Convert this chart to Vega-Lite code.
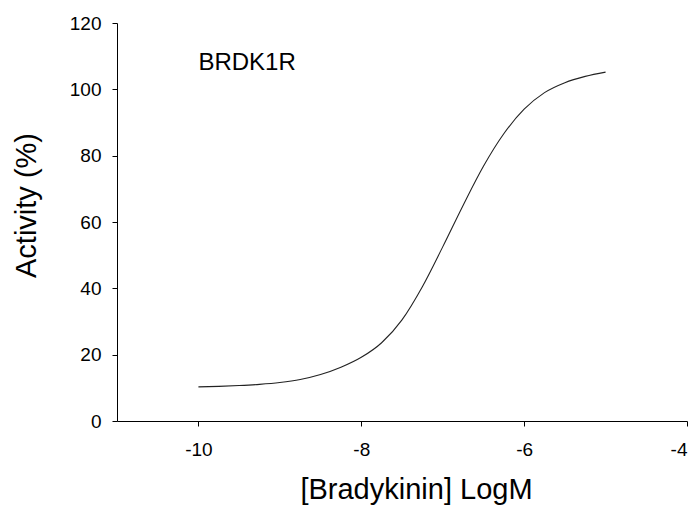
{
  "$schema": "https://vega.github.io/schema/vega-lite/v6.json",
  "width": 570,
  "height": 398,
  "autosize": {"type": "none"},
  "padding": {"left": 117, "top": 23, "right": 9, "bottom": 88},
  "background": "white",
  "config": {
    "view": {"stroke": null},
    "font": "Liberation Sans",
    "axis": {
      "grid": false,
      "domainColor": "black",
      "tickColor": "black",
      "labelColor": "black",
      "titleColor": "black",
      "labelFont": "Liberation Sans",
      "titleFont": "Liberation Sans",
      "labelFontSize": 19,
      "titleFontSize": 29,
      "titleFontWeight": "normal",
      "tickSize": 5
    }
  },
  "datasets": {
    "curve": [
      {"logM": -10.0, "activity": 10.3},
      {"logM": -9.75, "activity": 10.45},
      {"logM": -9.5, "activity": 10.7},
      {"logM": -9.25, "activity": 11.05},
      {"logM": -9.0, "activity": 11.6},
      {"logM": -8.75, "activity": 12.5},
      {"logM": -8.5, "activity": 14.0},
      {"logM": -8.25, "activity": 16.2},
      {"logM": -8.0, "activity": 19.2},
      {"logM": -7.75, "activity": 23.6},
      {"logM": -7.5, "activity": 30.5},
      {"logM": -7.25, "activity": 40.5},
      {"logM": -7.0, "activity": 52.5},
      {"logM": -6.75, "activity": 65.0},
      {"logM": -6.5, "activity": 76.8},
      {"logM": -6.25, "activity": 86.6},
      {"logM": -6.0, "activity": 94.0},
      {"logM": -5.75, "activity": 99.0},
      {"logM": -5.5, "activity": 102.0},
      {"logM": -5.25, "activity": 103.9},
      {"logM": -5.0, "activity": 105.2}
    ],
    "labels": [
      {"logM": -10.0, "activity": 105.7, "text": "BRDK1R"}
    ]
  },
  "layer": [
    {
      "data": {"name": "curve"},
      "mark": {"type": "line", "interpolate": "monotone", "color": "#222222", "strokeWidth": 1.1},
      "encoding": {
        "x": {
          "field": "logM", "type": "quantitative",
          "scale": {"domain": [-11, -4], "nice": false},
          "axis": {
            "values": [-10, -8, -6, -4],
            "labelExpr": "'' + datum.value",
            "title": "[Bradykinin] LogM",
            "labelPadding": 14,
            "titlePadding": 16,
            "titleX": 299
          }
        },
        "y": {
          "field": "activity", "type": "quantitative",
          "scale": {"domain": [0, 120], "nice": false},
          "axis": {
            "values": [0, 20, 40, 60, 80, 100, 120],
            "title": "Activity (%)",
            "labelPadding": 11,
            "titleX": -82,
            "titleY": 182,
            "titleBaseline": "alphabetic",
            "titleAngle": -90
          }
        }
      }
    },
    {
      "data": {"name": "labels"},
      "mark": {"type": "text", "align": "left", "baseline": "alphabetic", "fontSize": 24, "font": "Liberation Sans", "color": "black"},
      "encoding": {
        "x": {"field": "logM", "type": "quantitative"},
        "y": {"field": "activity", "type": "quantitative"},
        "text": {"field": "text"}
      }
    }
  ]
}
